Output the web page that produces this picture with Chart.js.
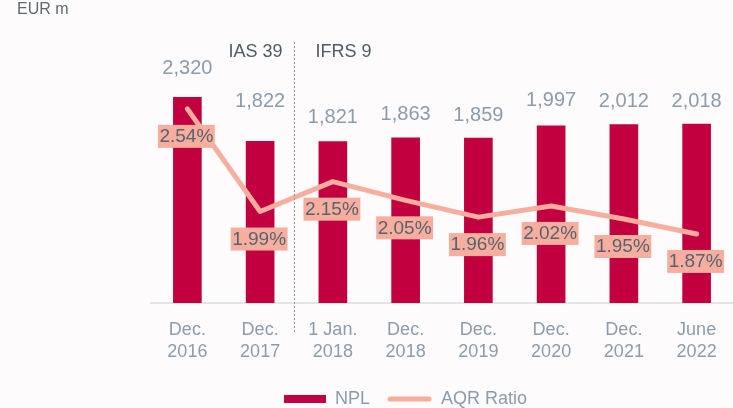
<!DOCTYPE html>
<html lang="en">
<head>
<meta charset="UTF-8"/>
<title>NPL and AQR Ratio</title>
<style>
    html, body {
        margin: 0;
        padding: 0;
        background: #fdfbfb;
        overflow: hidden;
    }
    canvas {
        display: block;
    }
</style>
</head>
<body>
<canvas id="nplChart" width="733" height="408"></canvas>

<script src="https://cdn.jsdelivr.net/npm/chart.js"></script>
<script>
// data
const periods = [
    ['Dec.', '2016'], ['Dec.', '2017'], ['1 Jan.', '2018'], ['Dec.', '2018'],
    ['Dec.', '2019'], ['Dec.', '2020'], ['Dec.', '2021'], ['June', '2022']
];
const nplValues = [2320, 1822, 1821, 1863, 1859, 1997, 2012, 2018];
const aqrRatio = [2.54, 1.99, 2.15, 2.05, 1.96, 2.02, 1.95, 1.87];

const FONT = 'Liberation Sans, Arial, sans-serif';
const BAR_COLOR = '#c3003f';
const LINE_COLOR = '#f8ae9e';
const GREY_BLUE = '#8b9cad';

// legend swatches as small canvases (right aligned so the gaps look like the original)
function swatch(w, h, draw) {
    const c = document.createElement('canvas');
    c.width = w;
    c.height = h;
    draw(c.getContext('2d'));
    return c;
}
const nplSwatch = swatch(60, 8, ctx => {
    ctx.fillStyle = BAR_COLOR;
    ctx.fillRect(18, 0, 42, 8);
});
const aqrSwatch = swatch(60, 6, ctx => {
    ctx.strokeStyle = LINE_COLOR;
    ctx.lineWidth = 5;
    ctx.lineCap = 'round';
    ctx.beginPath();
    ctx.moveTo(18, 3);
    ctx.lineTo(57, 3);
    ctx.stroke();
});

// labels, the IAS 39 / IFRS 9 divider and the unit
const annotations = {
    id: 'annotations',
    afterDatasetsDraw(chart) {
        const ctx = chart.ctx;
        const x = chart.scales.x;
        const barMeta = chart.getDatasetMeta(0);
        const lineMeta = chart.getDatasetMeta(1);
        const lift = [29, 40, 24, 23, 23, 25, 23, 23];

        ctx.save();
        ctx.textAlign = 'center';
        ctx.textBaseline = 'middle';

        // NPL values above bars
        ctx.font = '20px ' + FONT;
        ctx.fillStyle = GREY_BLUE;
        barMeta.data.forEach((bar, i) => {
            ctx.fillText(nplValues[i].toLocaleString('en-US'), bar.x, bar.y - lift[i]);
        });

        // AQR labels with salmon boxes
        ctx.font = '19px ' + FONT;
        lineMeta.data.forEach((pt, i) => {
            const txt = aqrRatio[i].toFixed(2) + '%';
            const w = ctx.measureText(txt).width + 3;
            const cy = pt.y + 27;
            ctx.fillStyle = LINE_COLOR;
            ctx.fillRect(pt.x - 1 - w / 2, cy - 11, w, 23);
            ctx.fillStyle = '#56636f';
            ctx.fillText(txt, pt.x - 1, cy + 1);
        });

        // dotted divider between Dec. 2017 and 1 Jan. 2018
        const dx = Math.round((x.getPixelForValue(1) + x.getPixelForValue(2)) / 2) - 2.5;
        ctx.strokeStyle = '#8f979f';
        ctx.lineWidth = 1;
        ctx.setLineDash([2, 2]);
        ctx.beginPath();
        ctx.moveTo(dx, 42);
        ctx.lineTo(dx, 334);
        ctx.stroke();
        ctx.setLineDash([]);

        ctx.font = '18px ' + FONT;
        ctx.fillStyle = '#4e5b67';
        ctx.textAlign = 'right';
        ctx.fillText('IAS 39', dx - 12, 52);
        ctx.textAlign = 'left';
        ctx.fillText('IFRS 9', dx + 21, 52);

        ctx.font = '16px ' + FONT;
        ctx.fillStyle = '#5d6973';
        ctx.fillText('EUR m', 17, 10);
        ctx.restore();
    }
};

new Chart(document.getElementById('nplChart'), {
    data: {
        labels: periods,
        datasets: [
            {
                type: 'bar',
                label: 'NPL',
                data: nplValues,
                backgroundColor: BAR_COLOR,
                barThickness: 28,
                yAxisID: 'y',
                order: 1
            },
            {
                type: 'line',
                label: 'AQR Ratio',
                data: aqrRatio,
                borderColor: LINE_COLOR,
                backgroundColor: LINE_COLOR,
                borderWidth: 5,
                borderCapStyle: 'round',
                borderJoinStyle: 'round',
                pointRadius: 0,
                tension: 0,
                yAxisID: 'y2',
                order: 0
            }
        ]
    },
    options: {
        responsive: false,
        animation: false,
        layout: {
            padding: { top: 37, left: 60, right: 0, bottom: -10 }
        },
        plugins: {
            tooltip: { enabled: false },
            legend: {
                position: 'bottom',
                labels: {
                    usePointStyle: true,
                    pointStyleWidth: 60,
                    padding: 2,
                    color: GREY_BLUE,
                    font: { family: FONT, size: 18 },
                    sort: (a, b) => a.datasetIndex - b.datasetIndex,
                    generateLabels(chart) {
                        const items = Chart.defaults.plugins.legend.labels.generateLabels(chart);
                        items.forEach(item => {
                            item.pointStyle = item.datasetIndex === 0 ? nplSwatch : aqrSwatch;
                        });
                        return items;
                    }
                }
            }
        },
        scales: {
            x: {
                grid: { display: false, drawTicks: false },
                border: { display: true, color: '#e1e5e9', width: 2 },
                ticks: {
                    padding: 16,
                    color: GREY_BLUE,
                    font: { family: FONT, size: 18, lineHeight: 1.22 },
                    maxRotation: 0
                },
                afterFit(scale) {
                    scale.height = 85;
                }
            },
            y: {
                min: 0,
                max: 3000,
                grid: { display: false, drawTicks: false },
                border: { display: false },
                ticks: { display: false },
                afterFit(scale) {
                    scale.width = 91;
                }
            },
            y2: {
                display: false,
                min: 1.5,
                max: 2.925
            }
        }
    },
    plugins: [annotations]
});
</script>
</body>
</html>
